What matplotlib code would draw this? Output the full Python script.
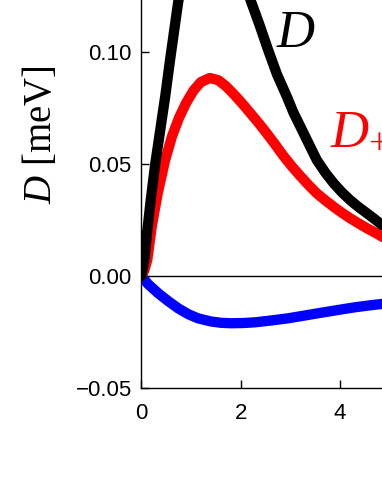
import matplotlib
matplotlib.use("Agg")
import matplotlib.pyplot as plt

# ---- data ----
black_x = [0, 0.06, 0.12, 0.19, 0.28, 0.38, 0.48, 0.58, 0.74, 0.90, 1.10, 1.30, 1.50,
           1.70, 1.95, 2.20, 2.38, 2.55, 2.73, 2.93, 3.06, 3.20, 3.37, 3.53, 3.70, 3.87,
           4.03, 4.20, 4.37, 4.54, 4.70, 4.84, 5.00]
black_y = [0, 0.0071, 0.020, 0.034, 0.050, 0.065, 0.080, 0.0967, 0.122, 0.142, 0.157,
           0.164, 0.163, 0.155, 0.140, 0.123, 0.112, 0.101, 0.090, 0.0800, 0.0730, 0.0667,
           0.0590, 0.0518, 0.0462, 0.0414, 0.0375, 0.0339, 0.0308, 0.0280, 0.0253, 0.0228,
           0.021]

red_x = [0, 0.06, 0.12, 0.21, 0.33, 0.48, 0.62, 0.76, 0.90, 1.05, 1.20, 1.38, 1.55, 1.70,
         1.86, 2.03, 2.19, 2.36, 2.53, 2.70, 2.86, 3.03, 3.20, 3.37, 3.53, 3.70, 3.87, 4.03,
         4.20, 4.37, 4.54, 4.70, 4.84, 5.00]
red_y = [0, 0.0025, 0.0071, 0.022, 0.0369, 0.0518, 0.0625, 0.0707, 0.0772, 0.0828, 0.0866,
         0.0884, 0.0874, 0.0848, 0.0812, 0.0770, 0.0728, 0.0683, 0.0635, 0.0585, 0.0536,
         0.0489, 0.0446, 0.0405, 0.0369, 0.0338, 0.0309, 0.0283, 0.0258, 0.0235, 0.0213,
         0.0194, 0.0176, 0.016]

blue_x = [0, 0.14, 0.34, 0.54, 0.74, 0.94, 1.14, 1.40, 1.60, 1.81, 2.05, 2.28, 2.60, 2.95,
          3.30, 3.62, 3.95, 4.29, 4.60, 4.83, 5.00]
blue_y = [0, -0.0037, -0.0077, -0.0112, -0.0144, -0.0170, -0.0189, -0.0203, -0.0209,
          -0.0211, -0.0210, -0.0207, -0.0199, -0.0189, -0.0176, -0.0164, -0.0152, -0.0140,
          -0.0131, -0.0125, -0.0120]

xticks = [0, 2, 4]
yticks = [-0.05, 0.00, 0.05, 0.10]
ytick_labels = ['\u22120.05', '0.00', '0.05', '0.10']

plt.rcParams['mathtext.fontset'] = 'custom'
plt.rcParams['mathtext.rm'] = 'Liberation Serif'
plt.rcParams['mathtext.it'] = 'Liberation Serif:italic'

fig = plt.figure(figsize=(3.82, 4.94), dpi=100)
ax = fig.add_axes([0.3699, 0.2146, 1.0409, 1.1336])
ax.set_xlim(0, 8)
ax.set_ylim(-0.05, 0.20)

ax.axhline(0, color='black', lw=1.0, zorder=1)
lw = 7.4
ax.plot(blue_x, blue_y, color='#0000ff', lw=lw, solid_capstyle='round',
        solid_joinstyle='round', zorder=2)
ax.plot(red_x, red_y, color='#ff0000', lw=lw, solid_capstyle='round',
        solid_joinstyle='round', zorder=3)
ax.plot(black_x, black_y, color='black', lw=lw, solid_capstyle='round',
        solid_joinstyle='round', zorder=4)

ax.set_xticks(xticks)
ax.set_yticks(yticks)
ax.set_yticklabels(ytick_labels)
ax.tick_params(axis='both', direction='in', length=6, width=1.0,
               labelsize=16, labelfontfamily='Liberation Sans')
ax.tick_params(axis='y', pad=6.9)
ax.tick_params(axis='x', pad=10.5)
for s in ax.spines.values():
    s.set_linewidth(1.0)

ax.text(2.72, 0.1022, '$D$', fontsize=38, color='black', ha='left', va='baseline')
ax.text(3.80, 0.0592, '$D_{+-}$', fontsize=38, color='#ff0000', ha='left', va='baseline')

fig.text(41 / 382, 1 - 135 / 494, '$D$ [meV]', rotation=90, ha='center', va='center',
         fontsize=28, family='Liberation Serif')

fig.savefig('out.png', dpi=100)
